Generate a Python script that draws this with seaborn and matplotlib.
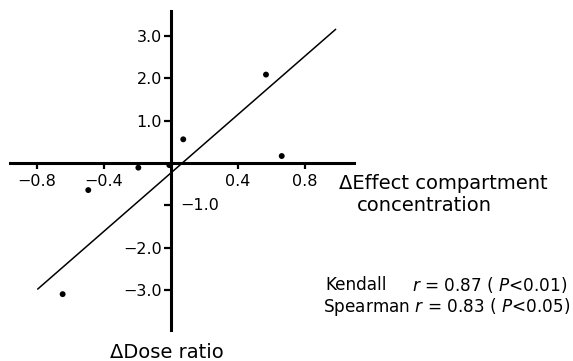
import matplotlib
matplotlib.use("Agg")
import matplotlib.pyplot as plt
import seaborn as sns
import pandas as pd

# data
dose_ratio_x = [-0.647, -0.494, -0.195, -0.01, 0.073, 0.567, 0.661]
effect_conc_y = [-3.10, -0.64, -0.11, -0.05, 0.56, 2.09, 0.165]
fit_x = [-0.796, 0.983]
fit_y = [-2.98, 3.16]
x_ticks = [-0.8, -0.4, 0.4, 0.8]
x_tick_labels = ["\u22120.8", "\u22120.4", "0.4", "0.8"]
y_ticks = [-3.0, -2.0, -1.0, 1.0, 2.0, 3.0]
y_tick_labels = ["\u22123.0", "\u22122.0", "", "1.0", "2.0", "3.0"]

sns.set_theme(style="white")
plt.rcParams["font.family"] = ["DejaVu Sans"]
plt.rcParams["text.color"] = "black"
plt.rcParams["mathtext.fontset"] = "custom"
plt.rcParams["mathtext.rm"] = "DejaVu Sans"
plt.rcParams["mathtext.it"] = "DejaVu Sans:italic"

pts = pd.DataFrame({"x": dose_ratio_x, "y": effect_conc_y})
fit = pd.DataFrame({"x": fit_x, "y": fit_y})

fig = plt.figure(figsize=(5.73, 3.61), dpi=100)
ax = fig.add_axes([0, 0, 1, 1])
ax.set_xlim(-1.021, 2.400)
ax.set_ylim(-4.68, 3.853)

sns.lineplot(data=fit, x="x", y="y", ax=ax, color="black", linewidth=1.1)
sns.scatterplot(data=pts, x="x", y="y", ax=ax, color="black", s=18,
                edgecolor="none", zorder=5)

for side in ["top", "right"]:
    ax.spines[side].set_visible(False)
for side in ["left", "bottom"]:
    ax.spines[side].set_position(("data", 0))
    ax.spines[side].set_linewidth(2.2)
    ax.spines[side].set_color("black")
ax.spines["bottom"].set_bounds(-0.96, 1.09)
ax.spines["left"].set_bounds(-3.95, 3.6)

ax.set_xticks(x_ticks)
ax.set_xticklabels(x_tick_labels)
ax.set_yticks(y_ticks)
ax.set_yticklabels(y_tick_labels)
ax.tick_params(axis="x", bottom=True, direction="out", length=4, width=1.6,
               pad=4, labelsize=11.5, colors="black")
ax.tick_params(axis="y", left=True, direction="out", length=5, width=1.6,
               pad=1.5, labelsize=11.5, colors="black")
ax.set_xlabel("")
ax.set_ylabel("")

ax.text(0.054, -1.0, "\u22121.0", ha="left", va="center", fontsize=11.5)

ax.text(1.003, -0.473, "\u0394Effect compartment", ha="left", va="center", fontsize=14)
ax.text(1.110, -0.993, "concentration", ha="left", va="center", fontsize=14)
ax.text(-0.024, -4.468, "\u0394Dose ratio", ha="center", va="center", fontsize=14)

ax.text(0.919, -2.884, "Kendall", ha="left", va="center", fontsize=12.2)
ax.text(2.364, -2.884, r"$\mathit{r}$ = 0.87 ( $\mathit{P}$<0.01)", ha="right", va="center", fontsize=12.2)
ax.text(2.382, -3.404, r"Spearman $\mathit{r}$ = 0.83 ( $\mathit{P}$<0.05)", ha="right", va="center", fontsize=12.2)

fig.savefig("out.png", dpi=100)
